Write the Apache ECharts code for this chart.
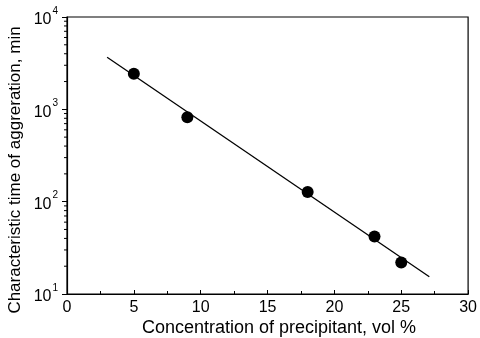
<!DOCTYPE html>
<html><head><meta charset="utf-8">
<script src="https://cdn.jsdelivr.net/npm/echarts@6/dist/echarts.min.js"></script>
<style>html,body{margin:0;padding:0;background:#fff}#c{width:480px;height:338px}</style>
</head><body><div id="c"></div>
<script>
// Data
const concentration = [5, 9, 18, 23, 25];
const timeMin = [2430, 820, 127, 42, 22];
const fitX = [3, 27.1];
const fitY = [3660, 15.4];
const xTicks = [0, 5, 10, 15, 20, 25, 30];
const yTicks = [10, 100, 1000, 10000];
const yMinorTicks = [20,30,40,50,60,70,80,90,200,300,400,500,600,700,800,900,2000,3000,4000,5000,6000,7000,8000,9000];
const xTitle = 'Concentration of precipitant, vol %';
const yTitle = 'Characteristic time of aggreration, min';

const FONT = 'Liberation Sans, Arial, sans-serif';
const chart = echarts.init(document.getElementById('c'), null, {renderer: 'canvas'});
const expOf = v => Math.round(Math.log10(v));
chart.setOption({
  animation: false,
  backgroundColor: '#fff',
  grid: {left: 67, right: 11, top: 17, bottom: 44, show: true, borderColor: '#000', borderWidth: 1.2, containLabel: false},
  xAxis: {
    type: 'value', min: xTicks[0], max: xTicks[xTicks.length-1], interval: 5,
    axisLine: {onZero: false, lineStyle: {color: '#000', width: 1.2}},
    axisTick: {inside: true, length: 4, lineStyle: {color: '#000', width: 1}},
    minorTick: {show: true, splitNumber: 2, length: 3, lineStyle: {color: '#000', width: 1}},
    splitLine: {show: false},
    axisLabel: {color: '#000', fontFamily: FONT, fontSize: 16, margin: 6}
  },
  yAxis: {
    type: 'log', logBase: 10, min: yTicks[0], max: yTicks[yTicks.length-1],
    axisLine: {lineStyle: {color: '#000', width: 1.2}},
    axisTick: {inside: false, length: 5, lineStyle: {color: '#000', width: 1}},
    splitLine: {show: false},
    axisLabel: {
      color: '#000', fontFamily: FONT, fontSize: 16, margin: 9,
      formatter: v => '{b|10}{sup|' + expOf(v) + '}',
      rich: {
        b: {fontSize: 16, fontFamily: FONT, color: '#000', padding: [6,0,0,0]},
        sup: {fontSize: 10, fontFamily: FONT, color: '#000', verticalAlign: 'top', padding: [0,0,8,1]}
      }
    }
  },
  graphic: [
    {type: 'text', x: 279, y: 328, style: {text: xTitle, font: '18px ' + FONT, fill: '#000', align: 'center', verticalAlign: 'middle'}},
    {type: 'text', x: 15, y: 170, rotation: Math.PI/2, style: {text: yTitle, font: '17px ' + FONT, fill: '#000', align: 'center', verticalAlign: 'middle'}}
  ],
  series: [
    {
      type: 'custom', coordinateSystem: 'cartesian2d', clip: false, silent: true,
      data: yMinorTicks.map(v => [xTicks[0], v]),
      renderItem: (params, api) => {
        const p = api.coord([api.value(0), api.value(1)]);
        return {type: 'line', shape: {x1: p[0] - 3, y1: p[1], x2: p[0], y2: p[1]}, style: {stroke: '#000', lineWidth: 1}};
      }
    },
    {
      type: 'line', data: fitX.map((x, i) => [x, fitY[i]]), symbol: 'none',
      lineStyle: {color: '#000', width: 1.3}, silent: true
    },
    {
      type: 'scatter', data: concentration.map((x, i) => [x, timeMin[i]]),
      symbol: 'circle', symbolSize: 12, itemStyle: {color: '#000', opacity: 1}, silent: true
    }
  ]
});
</script></body></html>
